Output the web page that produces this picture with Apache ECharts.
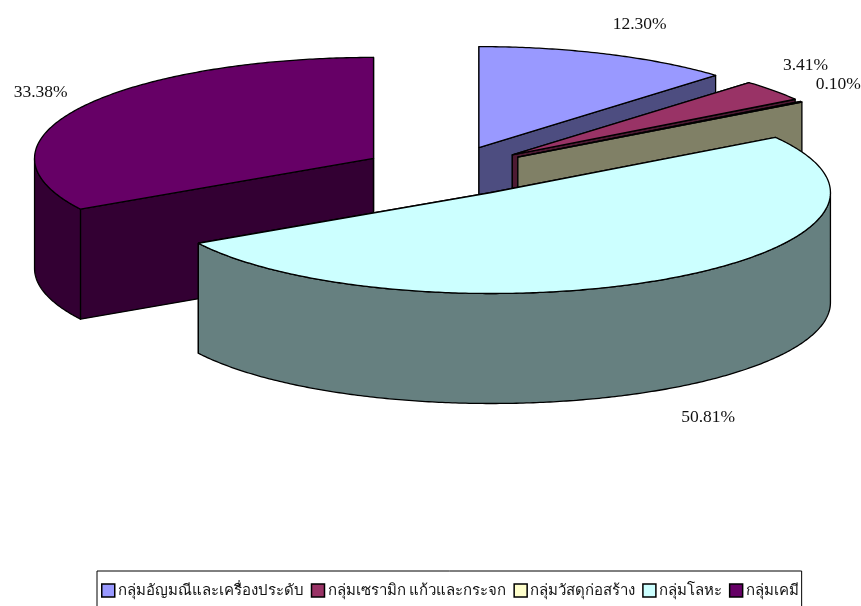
<!DOCTYPE html>
<html>
  <head>
    <meta charset="utf-8" />
    <title>Exploded pie</title>
    <script src="https://cdnjs.cloudflare.com/ajax/libs/echarts/6.0.0/echarts.min.js"></script>
    <style>
      html, body { margin: 0; padding: 0; background: #fff; overflow: hidden; }
    </style>
  </head>
  <body>
    <div id="main" style="width: 861px;height: 606px;"></div>
    <script type="text/javascript">
      var categories = ['กลุ่มอัญมณีและเครื่องประดับ', 'กลุ่มเซรามิก แก้วและกระจก', 'กลุ่มวัสดุก่อสร้าง', 'กลุ่มโลหะ', 'กลุ่มเคมี']
      var shares = [12.30, 3.41, 0.10, 50.81, 33.38]
      var topColors = ['#9999FF', '#993366', '#FFFFCC', '#CCFFFF', '#660066']
      var sideColors = ['#4D4D80', '#4D1A33', '#808066', '#668080', '#330033']
      // slices are painted back to front, metals last because it overlaps chemicals
      var paintOrder = [0, 1, 2, 4, 3]

      // pie layout
      var centerX = 447, centerY = 171, radiusX = 339, radiusY = 101, depth = 110, explode = 0.25
      // label offset from the rim point at each slice's middle angle
      var labelOffsets = [[33, -30], [32, -25], [37, -17], [39, 139], [-39, -16]]

      var total = shares.reduce(function (a, b) { return a + b }, 0)
      var startAngles = []
      shares.reduce(function (sum, v, i) {
        startAngles[i] = sum / total * Math.PI * 2
        return sum + v
      }, 0)

      function renderSlice(index) {
        var start = startAngles[index]
        var end = start + shares[index] / total * Math.PI * 2
        var mid = (start + end) / 2
        var cx = centerX + explode * radiusX * Math.sin(mid)
        var cy = centerY - explode * radiusY * Math.cos(mid)
        function rim(a) {
          return [cx + radiusX * Math.sin(a), cy - radiusY * Math.cos(a)]
        }
        function arc(a0, a1) {
          var pts = []
          var n = Math.max(2, Math.ceil((a1 - a0) / 0.01))
          for (var k = 0; k <= n; k++) {
            pts.push(rim(a0 + (a1 - a0) * k / n))
          }
          return pts
        }
        function down(p) {
          return [p[0], p[1] + depth]
        }
        function face(points, color) {
          return {
            type: 'polygon',
            shape: { points: points },
            style: { fill: color, stroke: '#000', lineWidth: 1.3, lineJoin: 'round' }
          }
        }
        function wall(a) {
          var p = rim(a)
          return face([[cx, cy], p, down(p), [cx, cy + depth]], sideColors[index])
        }
        var children = [wall(start), wall(end)]
        var a0 = Math.max(start, Math.PI / 2)
        var a1 = Math.min(end, Math.PI * 1.5)
        if (a1 > a0) {
          var outer = arc(a0, a1)
          children.push(face(outer.concat(outer.map(down).reverse()), sideColors[index]))
        }
        children.push(face([[cx, cy]].concat(arc(start, end)), topColors[index]))
        var anchor = rim(mid)
        children.push({
          type: 'text',
          z2: 10,
          style: {
            x: anchor[0] + labelOffsets[index][0],
            y: anchor[1] + labelOffsets[index][1],
            text: shares[index].toFixed(2) + '%',
            fill: '#111',
            font: '17.5px "Liberation Serif"',
            align: 'center',
            verticalAlign: 'middle'
          }
        })
        return { type: 'group', children: children }
      }

      var myChart = echarts.init(document.getElementById('main'), null, { renderer: 'canvas' })
      myChart.setOption({
        animation: false,
        backgroundColor: '#fff',
        legend: {
          left: 97,
          top: 571,
          orient: 'horizontal',
          width: 720,
          padding: [12, 3, 20, 4],
          itemGap: 7,
          itemWidth: 13,
          itemHeight: 13,
          borderColor: '#000',
          borderWidth: 1,
          backgroundColor: '#fff',
          selectedMode: false,
          textStyle: { fontSize: 15, color: '#111', padding: [0, 0, 0, -2], fontFamily: '"Noto Sans", "Liberation Sans", sans-serif' },
          itemStyle: { borderColor: '#000', borderWidth: 1.5 },
          data: categories.map(function (name, i) {
            return { name: name, icon: 'rect', itemStyle: { color: topColors[i], borderColor: '#000', borderWidth: 1.5 } }
          })
        },
        series: paintOrder.map(function (i) {
          return {
            type: 'custom',
            name: categories[i],
            coordinateSystem: 'none',
            silent: true,
            itemStyle: { color: topColors[i] },
            data: [shares[i]],
            renderItem: function () { return renderSlice(i) }
          }
        })
      })
    </script>
  </body>
</html>
